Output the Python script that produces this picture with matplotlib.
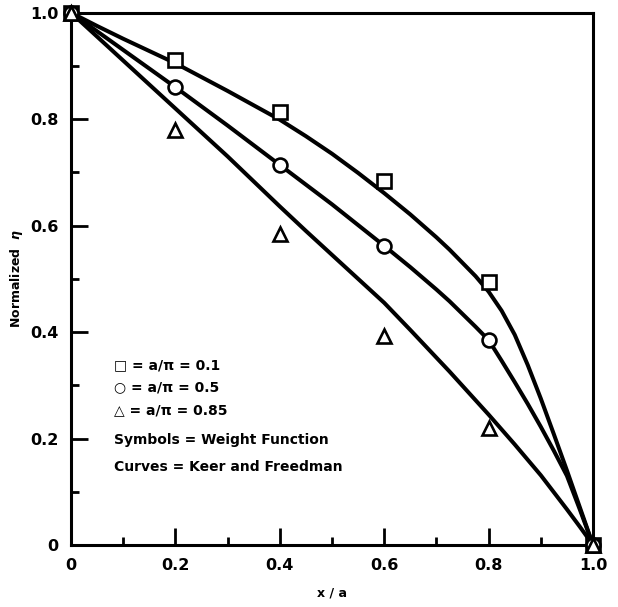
import matplotlib

matplotlib.use("Agg")
import matplotlib.pyplot as plt

plt.rcParams["font.family"] = ["DejaVu Sans"]
plt.rcParams["font.weight"] = "bold"

# --- weight function results (symbols) ---
x_pts = [0.0, 0.2, 0.4, 0.6, 0.8, 1.0]
sq_pts = [1.0, 0.912, 0.813, 0.683, 0.495, 0.0]     # a/pi = 0.1
ci_pts = [1.0, 0.860, 0.714, 0.562, 0.385, 0.0]     # a/pi = 0.5
tr_pts = [1.0, 0.780, 0.585, 0.392, 0.220, 0.0]     # a/pi = 0.85

# --- Keer and Freedman curves ---
x_crv = [0.0, 0.05, 0.1, 0.15, 0.2, 0.25, 0.3, 0.35, 0.4, 0.45, 0.5,
         0.55, 0.6, 0.65, 0.7, 0.725, 0.75, 0.775, 0.8, 0.825, 0.85,
         0.875, 0.9, 0.925, 0.95, 0.975, 1.0]
crv_01 = [1.0, 0.975, 0.951, 0.928, 0.905, 0.879, 0.853, 0.826, 0.799, 0.768, 0.735,
          0.699, 0.661, 0.621, 0.578, 0.555, 0.530, 0.505, 0.476, 0.440, 0.395,
          0.338, 0.275, 0.208, 0.140, 0.070, 0.0]
crv_05 = [1.0, 0.965, 0.930, 0.895, 0.860, 0.824, 0.788, 0.751, 0.714, 0.677, 0.640,
          0.601, 0.562, 0.522, 0.480, 0.458, 0.434, 0.410, 0.385, 0.346, 0.306,
          0.265, 0.222, 0.177, 0.130, 0.066, 0.0]
crv_85 = [1.0, 0.955, 0.910, 0.865, 0.820, 0.775, 0.730, 0.683, 0.636, 0.590, 0.545,
          0.500, 0.455, 0.404, 0.352, 0.326, 0.299, 0.272, 0.245, 0.217, 0.189,
          0.160, 0.131, 0.099, 0.067, 0.034, 0.0]

ticks = [0.0, 0.2, 0.4, 0.6, 0.8, 1.0]
minor_ticks = [0.1, 0.3, 0.5, 0.7, 0.9]
tick_labels = ["0", "0.2", "0.4", "0.6", "0.8", "1.0"]

legend_lines = ["\u25a1 = a/\u03c0 = 0.1",
                "\u25cb = a/\u03c0 = 0.5",
                "\u25b3 = a/\u03c0 = 0.85",
                "Symbols = Weight Function",
                "Curves = Keer and Freedman"]
legend_y = [0.338, 0.297, 0.254, 0.198, 0.146]

fig = plt.figure(figsize=(6.18, 6.07), dpi=100)
ax = fig.add_axes([0.1149, 0.1021, 0.8447, 0.877])

for y in (crv_01, crv_05, crv_85):
    ax.plot(x_crv, y, color="black", lw=2.9, solid_capstyle="round",
            solid_joinstyle="round", zorder=2)

mk = dict(ls="none", mfc="white", mec="black", mew=1.9, zorder=3, clip_on=False)
ax.plot(x_pts, sq_pts, marker="s", ms=9.5, **mk)
ax.plot(x_pts, ci_pts, marker="o", ms=10, **mk)
ax.plot(x_pts, tr_pts, marker="^", ms=10, **mk)

for txt, y in zip(legend_lines, legend_y):
    ax.text(0.082, y, txt, fontsize=10, fontweight="bold", ha="left", va="center")

ax.set_xlim(0, 1.0)
ax.set_ylim(0, 1.0)
ax.set_xticks(ticks, tick_labels)
ax.set_yticks(ticks, tick_labels)
ax.set_xticks(minor_ticks, minor=True)
ax.set_yticks(minor_ticks, minor=True)
ax.tick_params(which="major", direction="in", length=12, width=2, labelsize=11.5, pad=9)
ax.tick_params(which="minor", direction="in", length=6, width=2)
ax.tick_params(which="both", top=False, right=False)
for s in ax.spines.values():
    s.set_linewidth(2.2)

ax.set_xlabel("x / a", fontsize=9, fontweight="bold", labelpad=10)
ax.set_ylabel("Normalized  $\\eta$", fontsize=9, fontweight="bold", labelpad=4)

fig.savefig("out.png", dpi=100)
